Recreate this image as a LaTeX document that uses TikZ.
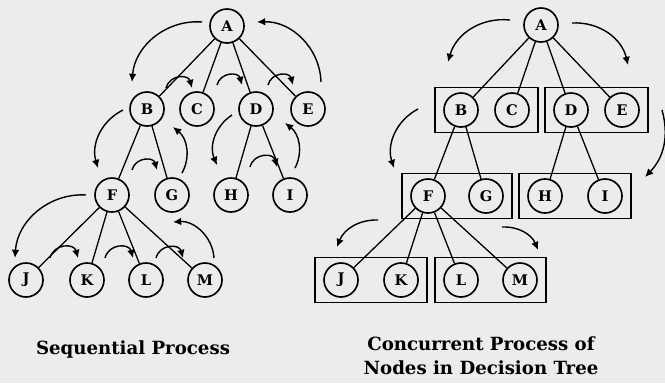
\documentclass[tikz,border=0pt]{standalone}
\usepackage{fontspec}
\setmainfont{DejaVu Serif}
\usetikzlibrary{arrows.meta,fit}
\definecolor{paper}{RGB}{236,236,236}
\tikzset{
  vertex/.style={circle,draw,line width=1.4pt,minimum size=1.02cm,inner sep=0pt,
    fill=paper,font=\fontsize{12.5}{12.5}\selectfont\bfseries},
  group/.style={draw,line width=1.4pt,inner xsep=7pt,inner ysep=4pt},
  branch/.style={line width=1.1pt},
  flow/.style={line width=1.2pt,-{Latex[length=7pt,width=6.5pt]}},
  hop/.style={flow,out=75,in=105,looseness=1.4},
  caption/.style={font=\fontsize{15.5}{20.5}\selectfont\bfseries,align=center},
}
\begin{document}
\begin{tikzpicture}[x=0.03cm,y=0.03cm]
    \useasboundingbox[fill=paper] (0,0) rectangle (665,-383);
    % sequential process
    \node[vertex] (lA) at (227,-26) {A};
    \node[vertex] (lB) at (147,-109) {B};
    \node[vertex] (lC) at (197,-109) {C};
    \node[vertex] (lD) at (256,-109) {D};
    \node[vertex] (lE) at (308,-109) {E};
    \node[vertex] (lF) at (112,-195) {F};
    \node[vertex] (lG) at (172,-195) {G};
    \node[vertex] (lH) at (231,-195) {H};
    \node[vertex] (lI) at (290,-195) {I};
    \node[vertex] (lJ) at (26,-280) {J};
    \node[vertex] (lK) at (87,-280) {K};
    \node[vertex] (lL) at (146,-280) {L};
    \node[vertex] (lM) at (205,-280) {M};
    \draw[branch] (lA) -- (lB) (lA) -- (lC) (lA) -- (lD) (lA) -- (lE);
    \draw[branch] (lB) -- (lF) (lB) -- (lG) (lD) -- (lH) (lD) -- (lI);
    \draw[branch] (lF) -- (lJ) (lF) -- (lK) (lF) -- (lL) (lF) -- (lM);
    \coordinate (l1a) at (202,-22);  \coordinate (l1b) at (132,-82);
    \coordinate (l2a) at (166,-88);  \coordinate (l2b) at (192,-88);
    \coordinate (l3a) at (217,-85);  \coordinate (l3b) at (242,-85);
    \coordinate (l4a) at (268,-85);  \coordinate (l4b) at (293,-85);
    \coordinate (l5a) at (321,-82);  \coordinate (l5b) at (257,-22);
    \coordinate (l6a) at (123,-110); \coordinate (l6b) at (98,-168);
    \coordinate (l7a) at (132,-170); \coordinate (l7b) at (157,-170);
    \coordinate (l8a) at (182,-173); \coordinate (l8b) at (173,-127);
    \coordinate (l9a) at (232,-115); \coordinate (l9b) at (217,-165);
    \coordinate (l10a) at (250,-167); \coordinate (l10b) at (277,-167);
    \coordinate (l11a) at (295,-168); \coordinate (l11b) at (285,-123);
    \coordinate (l12a) at (86,-195);  \coordinate (l12b) at (15,-258);
    \coordinate (l13a) at (50,-258);  \coordinate (l13b) at (78,-258);
    \coordinate (l14a) at (105,-258); \coordinate (l14b) at (133,-258);
    \coordinate (l15a) at (156,-258); \coordinate (l15b) at (183,-258);
    \coordinate (l16a) at (214,-258); \coordinate (l16b) at (173,-222);
    \draw[flow] (l1a) to[bend right=45] (l1b);
    \draw[hop] (l2a) to (l2b);
    \draw[hop] (l3a) to (l3b);
    \draw[hop] (l4a) to (l4b);
    \draw[flow] (l5a) to[bend right=45] (l5b);
    \draw[flow] (l6a) to[bend right=40] (l6b);
    \draw[hop] (l7a) to (l7b);
    \draw[flow] (l8a) to[bend right=40] (l8b);
    \draw[flow] (l9a) to[bend right=40] (l9b);
    \draw[hop] (l10a) to (l10b);
    \draw[flow] (l11a) to[bend right=40] (l11b);
    \draw[flow] (l12a) to[bend right=45] (l12b);
    \draw[hop] (l13a) to (l13b);
    \draw[hop] (l14a) to (l14b);
    \draw[hop] (l15a) to (l15b);
    \draw[flow] (l16a) to[bend right=45] (l16b);
    \node[caption] (lcap) at (133,-349) {Sequential Process};
    % concurrent process
    \node[vertex] (rA) at (541,-25) {A};
    \node[vertex] (rB) at (461,-110) {B};
    \node[vertex] (rC) at (512,-110) {C};
    \node[vertex] (rD) at (571,-110) {D};
    \node[vertex] (rE) at (622,-110) {E};
    \node[vertex] (rF) at (428,-196) {F};
    \node[vertex] (rG) at (486,-196) {G};
    \node[vertex] (rH) at (545,-196) {H};
    \node[vertex] (rI) at (605,-196) {I};
    \node[vertex] (rJ) at (341,-280) {J};
    \node[vertex] (rK) at (401,-280) {K};
    \node[vertex] (rL) at (461,-280) {L};
    \node[vertex] (rM) at (520,-280) {M};
    \node[group,fit=(rB)(rC)] (rBC) {};
    \node[group,fit=(rD)(rE)] (rDE) {};
    \node[group,fit=(rF)(rG)] (rFG) {};
    \node[group,fit=(rH)(rI)] (rHI) {};
    \node[group,fit=(rJ)(rK)] (rJK) {};
    \node[group,fit=(rL)(rM)] (rLM) {};
    \draw[branch] (rA) -- (rB) (rA) -- (rC) (rA) -- (rD) (rA) -- (rE);
    \draw[branch] (rB) -- (rF) (rB) -- (rG) (rD) -- (rH) (rD) -- (rI);
    \draw[branch] (rF) -- (rJ) (rF) -- (rK) (rF) -- (rL) (rF) -- (rM);
    \coordinate (r1a) at (510,-20); \coordinate (r1b) at (448,-62);
    \coordinate (r2a) at (572,-23); \coordinate (r2b) at (628,-65);
    \coordinate (r3a) at (418,-109); \coordinate (r3b) at (394,-168);
    \coordinate (r4a) at (662,-110); \coordinate (r4b) at (645,-177);
    \coordinate (r5a) at (378,-220); \coordinate (r5b) at (337,-247);
    \coordinate (r6a) at (502,-227); \coordinate (r6b) at (538,-250);
    \draw[flow] (r1a) to[bend right=40] (r1b);
    \draw[flow] (r2a) to[bend left=40] (r2b);
    \draw[flow] (r3a) to[bend right=40] (r3b);
    \draw[flow] (r4a) to[bend left=30] (r4b);
    \draw[flow] (r5a) to[bend right=35] (r5b);
    \draw[flow] (r6a) to[bend left=35] (r6b);
    \node[caption] (rcap) at (481,-356) {Concurrent Process of\\Nodes in Decision Tree};
\end{tikzpicture}
\end{document}
